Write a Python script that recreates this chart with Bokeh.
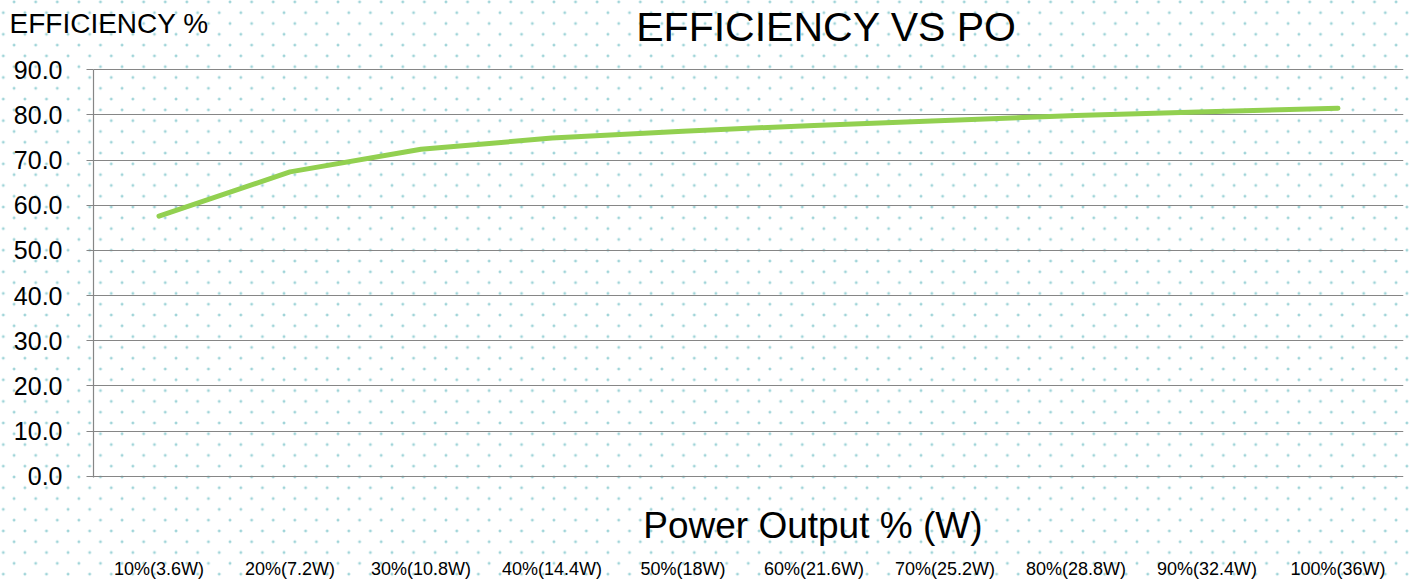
from bokeh.plotting import figure
from bokeh.layouts import column
from bokeh.models import Range1d, FactorRange, FixedTicker, NumeralTickFormatter, Label
from bokeh.embed import file_html
from bokeh.resources import INLINE

# ---- data ----
categories = ["10%(3.6W)", "20%(7.2W)", "30%(10.8W)", "40%(14.4W)", "50%(18W)",
              "60%(21.6W)", "70%(25.2W)", "80%(28.8W)", "90%(32.4W)", "100%(36W)"]
efficiency = [57.6, 67.4, 72.4, 74.9, 76.4, 77.7, 78.8, 79.9, 80.7, 81.5]
y_ticks = [0, 10, 20, 30, 40, 50, 60, 70, 80, 90]
chart_title = "EFFICIENCY VS PO"
y_title = "EFFICIENCY %"
x_title = "Power Output  % (W)"

FONT = "Liberation Sans"
GRID = "#868686"
W = 1412
LEFT, RIGHT = 93, 9

dot = "radial-gradient(circle at center, #9fd4d8 0px, #9fd4d8 1px, rgba(255,255,255,0) 1.8px)"
bg_styles = {"background-color": "white",
             "background-image": dot + ", " + dot,
             "background-size": "21.6px 21.6px, 21.6px 21.6px",
             "background-position": "3.3px -8.9px, -7.5px 1.9px"}

common = dict(output_backend="svg", toolbar_location=None,
              background_fill_color=None, border_fill_color=None)

# ---- header: titles ----
head = figure(width=W, height=53, x_range=Range1d(0, 1), y_range=Range1d(0, 1),
              x_axis_location=None, y_axis_location=None, min_border=0, **common)
if "frame_align" in head.properties():
    head.frame_align = False
head.outline_line_color = None
head.grid.visible = False
head.add_layout(Label(x=826, y=27, x_units="screen", y_units="screen", text=chart_title,
                      text_font=FONT, text_font_size="41px", text_color="#000000",
                      text_align="center", text_baseline="alphabetic"))
head.add_layout(Label(x=9, y=30.5, x_units="screen", y_units="screen", text=y_title,
                      text_font=FONT, text_font_size="28px", text_color="#000000",
                      text_align="left", text_baseline="alphabetic"))

# ---- main chart ----
xr = FactorRange(factors=categories)
p = figure(width=W, height=437, x_range=xr, y_range=Range1d(-0.3, 90.3),
           x_axis_location=None, min_border_left=LEFT, min_border_right=RIGHT,
           min_border_top=15, min_border_bottom=13, **common)
p.outline_line_color = None

p.yaxis.ticker = FixedTicker(ticks=y_ticks)
p.yaxis.formatter = NumeralTickFormatter(format="0.0")
p.yaxis.bounds = (-1.1, 90)
p.yaxis.major_label_text_font = FONT
p.yaxis.major_label_text_font_size = "25px"
p.yaxis.major_label_text_color = "#000000"
p.yaxis.axis_line_color = GRID
p.yaxis.axis_line_width = 1.2
p.yaxis.major_tick_line_color = GRID
p.yaxis.major_tick_line_width = 1.2
p.yaxis.major_tick_out = 7
p.yaxis.major_tick_in = 0
p.yaxis.minor_tick_line_color = None
p.yaxis.major_label_standoff = 24

p.xgrid.grid_line_color = None
p.ygrid.ticker = FixedTicker(ticks=y_ticks)
p.ygrid.grid_line_color = GRID
p.ygrid.grid_line_width = 1.2

p.line(x=categories, y=efficiency, line_color="#92d050", line_width=5,
       line_cap="round", line_join="round")

# ---- footer: x title + category labels ----
foot = figure(width=W, height=91, x_range=xr, y_range=Range1d(0, 1),
              y_axis_location=None, min_border_left=LEFT, min_border_right=RIGHT,
              min_border_top=0, min_border_bottom=23, **common)
foot.outline_line_color = None
foot.grid.visible = False
foot.xaxis.axis_line_color = None
foot.xaxis.major_tick_line_color = None
foot.xaxis.minor_tick_line_color = None
foot.xaxis.major_tick_out = 0
foot.xaxis.major_tick_in = 0
foot.xaxis.major_label_standoff = 0
foot.xaxis.major_label_text_font = FONT
foot.xaxis.major_label_text_font_size = "18px"
foot.xaxis.major_label_text_color = "#000000"
foot.add_layout(Label(x=724.5, y=33.5, x_units="screen", y_units="screen", text=x_title,
                      text_font=FONT, text_font_size="37px", text_color="#000000",
                      text_align="center", text_baseline="alphabetic"))

layout = column(head, p, foot, spacing=0, styles=bg_styles)

open("out.html", "w").write(file_html(layout, INLINE))
